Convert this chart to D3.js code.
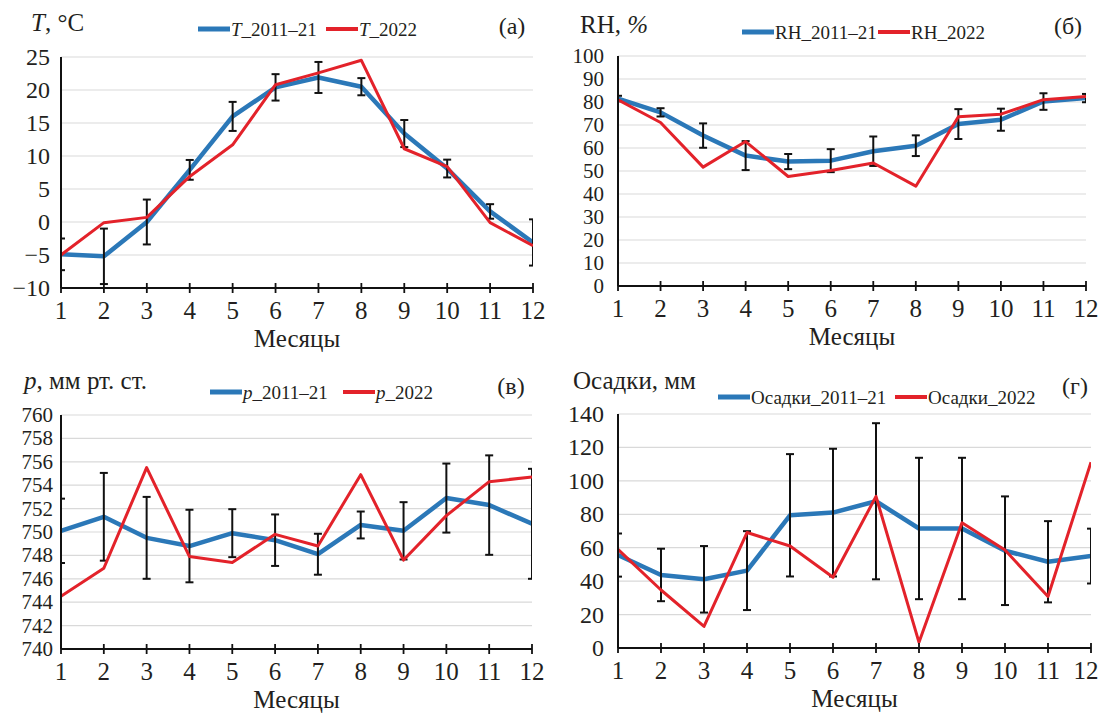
<!DOCTYPE html>
<html>
<head>
<meta charset="utf-8">
<script src="https://cdn.jsdelivr.net/npm/d3@7"></script>
<style>
  body { margin: 0; background: #fff; }
  svg { display: block; }
  text { font-family: "Liberation Serif", "Times New Roman", serif; fill: #231f20; }
</style>
</head>
<body>
<svg id="chart" width="1101" height="713"></svg>
<script>
// Месяцы
const months = [1, 2, 3, 4, 5, 6, 7, 8, 9, 10, 11, 12];

// (а) Температура, °C
const tMean = [-4.9, -5.2, 0.0, 7.9, 16.0, 20.4, 21.9, 20.5, 13.4, 8.1, 1.6, -3.1];
const tErr = [2.4, 4.2, 3.4, 1.5, 2.2, 2.0, 2.35, 1.3, 2.05, 1.35, 1.1, 3.5];
const t2022 = [-5.0, -0.1, 0.7, 6.9, 11.7, 20.8, 22.6, 24.5, 11.1, 8.4, -0.1, -3.6];
const tTicks = [-10, -5, 0, 5, 10, 15, 20, 25];

// (б) Относительная влажность, %
const rhMean = [81.5, 75.5, 65.4, 56.7, 54.1, 54.5, 58.6, 61.0, 70.4, 72.3, 80.2, 81.7];
const rhErr = [1.2, 1.8, 5.3, 6.3, 3.3, 5.0, 6.4, 4.5, 6.5, 4.8, 3.6, 1.8];
const rh2022 = [81.0, 71.1, 51.7, 62.8, 47.6, 50.2, 53.5, 43.4, 73.6, 74.7, 81.0, 82.4];
const rhTicks = [0, 10, 20, 30, 40, 50, 60, 70, 80, 90, 100];

// (в) Давление, мм рт. ст.
const pMean = [750.1, 751.3, 749.5, 748.8, 749.9, 749.3, 748.1, 750.6, 750.1, 752.9, 752.3, 750.7];
const pErr = [2.75, 3.75, 3.5, 3.1, 2.05, 2.2, 1.75, 1.15, 2.45, 2.95, 4.25, 4.7];
const p2022 = [744.5, 746.9, 755.5, 747.9, 747.4, 749.8, 748.8, 754.9, 747.6, 751.4, 754.3, 754.7];
const pTicks = [740, 742, 744, 746, 748, 750, 752, 754, 756, 758, 760];

// (г) Осадки, мм
const precMean = [55.6, 43.7, 41.1, 46.3, 79.4, 81.0, 87.8, 71.5, 71.5, 58.2, 51.6, 55.0];
const precErr = [12.9, 15.7, 19.9, 23.6, 36.6, 38.2, 46.7, 42.3, 42.3, 32.5, 24.3, 16.4];
const prec2022 = [59.0, 34.7, 12.9, 69.1, 61.0, 42.3, 90.7, 3.4, 74.9, 58.6, 30.8, 111.2];
const precTicks = [0, 20, 40, 60, 80, 100, 120, 140];

const BLUE = "#2b78b8";
const RED = "#e3222a";

const panels = [
  {
    id: "a", mean: tMean, err: tErr, cur: t2022, ticks: tTicks,
    left: 61, right: 533, top: 57, bottom: 288, labelGap: 11, tickFont: 24,
    title: [{ t: "T", i: true }, { t: ", °C" }], titleX: 31, titleY: 31,
    letter: "(а)", letterX: 512, letterY: 34,
    legY: 29, leg: [
      { x: 198, label: [{ t: "T", i: true }, { t: "_2011–21" }] },
      { x: 326, label: [{ t: "T", i: true }, { t: "_2022" }] }
    ]
  },
  {
    id: "b", mean: rhMean, err: rhErr, cur: rh2022, ticks: rhTicks,
    left: 618, right: 1086, top: 56, bottom: 286, labelGap: 14, tickFont: 21,
    title: [{ t: "RH, " }, { t: "%", i: true }], titleX: 580, titleY: 33,
    letter: "(б)", letterX: 1068, letterY: 34,
    legY: 32, leg: [
      { x: 742, label: [{ t: "RH_2011–21" }] },
      { x: 878, label: [{ t: "RH_2022" }] }
    ]
  },
  {
    id: "c", mean: pMean, err: pErr, cur: p2022, ticks: pTicks,
    left: 61, right: 532, top: 415, bottom: 649, labelGap: 8, tickFont: 21,
    title: [{ t: "p", i: true }, { t: ", мм рт. ст." }], titleX: 24, titleY: 389,
    letter: "(в)", letterX: 511, letterY: 394,
    legY: 392, leg: [
      { x: 210, label: [{ t: "p", i: true }, { t: "_2011–21" }] },
      { x: 343, label: [{ t: "p", i: true }, { t: "_2022" }] }
    ]
  },
  {
    id: "d", mean: precMean, err: precErr, cur: prec2022, ticks: precTicks,
    left: 618, right: 1091, top: 414, bottom: 648, labelGap: 14, tickFont: 24,
    title: [{ t: "Осадки, мм" }], titleX: 573, titleY: 389,
    letter: "(г)", letterX: 1075, letterY: 394,
    legY: 397, leg: [
      { x: 718, label: [{ t: "Осадки_2011–21" }] },
      { x: 895, label: [{ t: "Осадки_2022" }] }
    ]
  }
];

const svg = d3.select("#chart");
svg.append("rect").attr("width", 1101).attr("height", 713).attr("fill", "#fff");

function richText(sel, parts) {
  parts.forEach(p => {
    sel.append("tspan")
      .style("font-style", p.i ? "italic" : "normal")
      .text(p.t);
  });
}

function drawPanel(p) {
  const g = svg.append("g").attr("class", `panel-${p.id}`);
  const x = d3.scaleLinear().domain([1, 12]).range([p.left, p.right]);
  const y = d3.scaleLinear().domain(d3.extent(p.ticks)).range([p.bottom, p.top]);

  // сетка
  g.append("g").selectAll("line")
    .data(p.ticks.slice(1))
    .join("line")
    .attr("x1", p.left).attr("x2", p.right)
    .attr("y1", d => y(d)).attr("y2", d => y(d))
    .attr("stroke", "#d9d9d9").attr("stroke-width", 1.2);

  // подписи оси Y
  g.append("g").selectAll("text")
    .data(p.ticks)
    .join("text")
    .attr("x", p.left - p.labelGap)
    .attr("y", d => y(d))
    .attr("text-anchor", "end")
    .attr("dominant-baseline", "central")
    .style("font-size", `${p.tickFont}px`)
    .text(d => d < 0 ? "−" + Math.abs(d) : d);

  const clipId = `clip-${p.id}`;
  g.append("clipPath").attr("id", clipId)
    .append("rect")
    .attr("x", p.left).attr("y", p.top - 10)
    .attr("width", p.right - p.left).attr("height", p.bottom - p.top + 10);

  const plot = g.append("g").attr("clip-path", `url(#${clipId})`);
  const line = d3.line().x((d, i) => x(months[i])).y(d => y(d));

  plot.append("path")
    .datum(p.mean)
    .attr("d", line)
    .attr("fill", "none")
    .attr("stroke", BLUE)
    .attr("stroke-width", 4.5)
    .attr("stroke-linejoin", "round");

  // планки погрешностей
  const eb = plot.append("g").attr("stroke", "#111").attr("stroke-width", 2);
  months.forEach((m, i) => {
    const cx = x(m);
    const hi = y(p.mean[i] + p.err[i]);
    const lo = y(p.mean[i] - p.err[i]);
    eb.append("line").attr("x1", cx).attr("x2", cx).attr("y1", hi).attr("y2", lo);
    eb.append("line").attr("x1", cx - 4).attr("x2", cx + 4).attr("y1", hi).attr("y2", hi);
    eb.append("line").attr("x1", cx - 4).attr("x2", cx + 4).attr("y1", lo).attr("y2", lo);
  });

  plot.append("path")
    .datum(p.cur)
    .attr("d", line)
    .attr("fill", "none")
    .attr("stroke", RED)
    .attr("stroke-width", 3)
    .attr("stroke-linejoin", "round");

  // оси
  g.append("line")
    .attr("x1", p.left).attr("x2", p.left)
    .attr("y1", p.top).attr("y2", p.bottom)
    .attr("stroke", "#111").attr("stroke-width", 2);
  g.append("line")
    .attr("x1", p.left).attr("x2", p.right)
    .attr("y1", p.bottom).attr("y2", p.bottom)
    .attr("stroke", "#111").attr("stroke-width", 2);
  g.append("g").selectAll("line")
    .data(months)
    .join("line")
    .attr("x1", d => x(d)).attr("x2", d => x(d))
    .attr("y1", p.bottom - 5).attr("y2", p.bottom + 5)
    .attr("stroke", "#111").attr("stroke-width", 1.8);

  g.append("g").selectAll("text")
    .data(months)
    .join("text")
    .attr("x", d => Math.min(x(d), 1086))
    .attr("y", p.bottom + 31)
    .attr("text-anchor", "middle")
    .style("font-size", "25px")
    .text(d => d);

  g.append("text")
    .attr("x", (p.left + p.right) / 2)
    .attr("y", p.bottom + 59)
    .attr("text-anchor", "middle")
    .style("font-size", "25px")
    .text("Месяцы");

  // заголовок и буква панели
  richText(g.append("text")
    .attr("x", p.titleX).attr("y", p.titleY)
    .style("font-size", "25px"), p.title);

  g.append("text")
    .attr("x", p.letterX).attr("y", p.letterY)
    .attr("text-anchor", "middle")
    .style("font-size", "24px")
    .text(p.letter);

  // легенда
  p.leg.forEach((l, k) => {
    g.append("line")
      .attr("x1", l.x).attr("x2", l.x + 32)
      .attr("y1", p.legY).attr("y2", p.legY)
      .attr("stroke", k === 0 ? BLUE : RED)
      .attr("stroke-width", k === 0 ? 5 : 4);
    richText(g.append("text")
      .attr("x", l.x + 33).attr("y", p.legY)
      .attr("dominant-baseline", "central")
      .style("font-size", "19px"), l.label);
  });
}

panels.forEach(drawPanel);
</script>
</body>
</html>
